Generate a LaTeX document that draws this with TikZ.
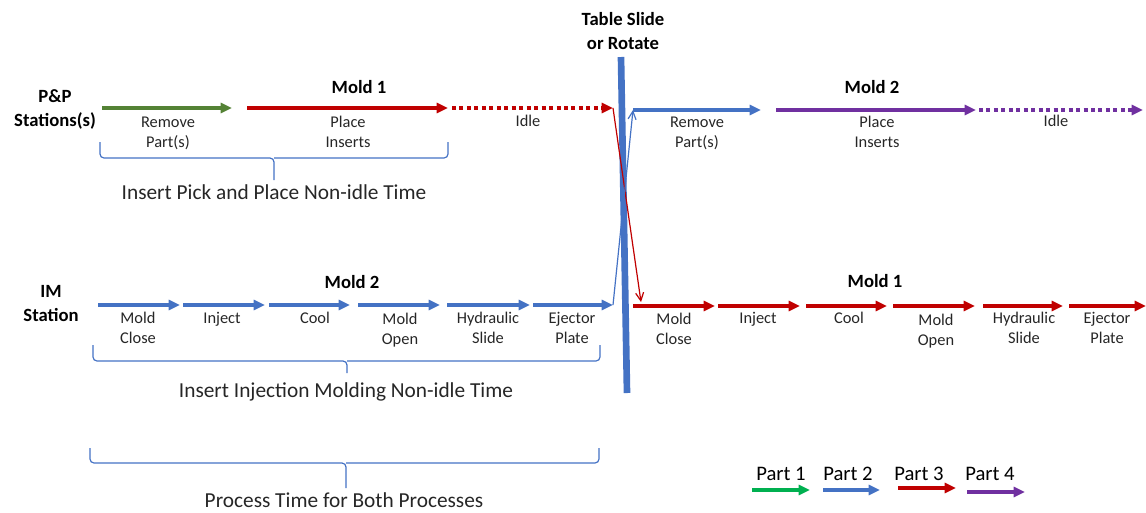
\documentclass[tikz,border=0pt]{standalone}
\usepackage{fontspec}
\setmainfont{Carlito}
\usetikzlibrary{arrows.meta}
\definecolor{ppgreen}{HTML}{548235}
\definecolor{lggreen}{HTML}{00B050}
\definecolor{pblue}{HTML}{4472C4}
\definecolor{pred}{HTML}{C00000}
\definecolor{ppurple}{HTML}{7030A0}
\definecolor{txt}{HTML}{262626}
\begin{document}
\begin{tikzpicture}[x=0.75pt,y=-0.75pt,
  seg/.style={line width=2.6pt,-{Triangle[length=8.5pt,width=7.5pt]}},
  idle/.style={seg, dash pattern=on 3pt off 2.6pt},
  hop/.style={line width=0.9pt,-{Straight Barb[length=6pt,width=6pt]}},
  lbl/.style={font=\fontsize{12.3}{15}\selectfont, text=txt, align=center, anchor=base, inner sep=0pt},
  head/.style={font=\bfseries\fontsize{14}{17.3}\selectfont, align=center, anchor=base, inner sep=0pt},
  captext/.style={font=\fontsize{16}{19}\selectfont, text=txt, anchor=base, inner sep=0pt},
  legtext/.style={font=\fontsize{15.5}{18}\selectfont, text=black, anchor=base, inner sep=0pt},
  brace/.style={pblue, line width=0.9pt, rounded corners=3pt},
]
\useasboundingbox (0,0) rectangle (1146,512);

% ---------- station titles (base = last line) ----------
\node[head] (pp) at (55,126) {P\&P\\Stations(s)};
\node[head] (im) at (51,321) {IM\\Station};
\node[head] (table) at (623,49) {Table Slide\\or Rotate};

% ---------- table slide / rotate bar ----------
\coordinate (bart) at (621,57);
\coordinate (barb) at (627,393);
\draw[pblue, line width=5pt] (bart) -- (barb);

% ---------- P&P station, first cycle ----------
\coordinate (a1s) at (102,108); \coordinate (a1e) at (232,108);
\coordinate (a2s) at (247,108); \coordinate (a2e) at (448,108);
\coordinate (a3s) at (452,108); \coordinate (a3e) at (613,108);
\draw[seg, ppgreen] (a1s) -- (a1e);
\draw[seg, pred] (a2s) -- (a2e);
\draw[idle, pred] (a3s) -- (a3e);
\node[head] (m1a) at (359,93) {Mold 1};
\node[lbl] (rp1) at (168,147) {Remove\\Part(s)};
\node[lbl] (pi1) at (348,147) {Place\\Inserts};
\node[lbl] (id1) at (528,126) {Idle};

% ---------- P&P station, second cycle ----------
\coordinate (b1s) at (633,110); \coordinate (b1e) at (761,110);
\coordinate (b2s) at (776,110); \coordinate (b2e) at (976,110);
\coordinate (b3s) at (979,110); \coordinate (b3e) at (1143,110);
\draw[seg, pblue] (b1s) -- (b1e);
\draw[seg, ppurple] (b2s) -- (b2e);
\draw[idle, ppurple] (b3s) -- (b3e);
\node[head] (m2a) at (872,93) {Mold 2};
\node[lbl] (rp2) at (697,147) {Remove\\Part(s)};
\node[lbl] (pi2) at (877,147) {Place\\Inserts};
\node[lbl] (id2) at (1056,126) {Idle};

% ---------- IM station, first cycle ----------
\coordinate (c1s) at (98,305);  \coordinate (c1e) at (180,305);
\coordinate (c2s) at (183,305); \coordinate (c2e) at (265,305);
\coordinate (c3s) at (269,305); \coordinate (c3e) at (350,305);
\coordinate (c4s) at (358,305); \coordinate (c4e) at (440,305);
\coordinate (c5s) at (447,305); \coordinate (c5e) at (530,305);
\coordinate (c6s) at (533,305); \coordinate (c6e) at (613,305);
\foreach \i in {1,...,6} \draw[seg, pblue] (c\i s) -- (c\i e);
\node[head] (m2b) at (352,288) {Mold 2};
\node[lbl] (l1) at (138,343) {Mold\\Close};
\node[lbl] (l2) at (222,323) {Inject};
\node[lbl] (l3) at (315,323) {Cool};
\node[lbl] (l4) at (400,344) {Mold\\Open};
\node[lbl] (l5) at (488,343) {Hydraulic\\Slide};
\node[lbl] (l6) at (572,343) {Ejector\\Plate};

% ---------- IM station, second cycle ----------
\coordinate (d1s) at (633,306);  \coordinate (d1e) at (715,306);
\coordinate (d2s) at (718,306);  \coordinate (d2e) at (800,306);
\coordinate (d3s) at (806,306);  \coordinate (d3e) at (887,306);
\coordinate (d4s) at (893,306);  \coordinate (d4e) at (975,306);
\coordinate (d5s) at (983,306);  \coordinate (d5e) at (1063,306);
\coordinate (d6s) at (1069,306); \coordinate (d6e) at (1146,306);
\foreach \i in {1,...,6} \draw[seg, pred] (d\i s) -- (d\i e);
\node[head] (m1b) at (875,287) {Mold 1};
\node[lbl] (r1) at (674,344) {Mold\\Close};
\node[lbl] (r2) at (758,323) {Inject};
\node[lbl] (r3) at (849,323) {Cool};
\node[lbl] (r4) at (936,345) {Mold\\Open};
\node[lbl] (r5) at (1024,343) {Hydraulic\\Slide};
\node[lbl] (r6) at (1107,343) {Ejector\\Plate};

% ---------- moves across the table ----------
\draw[hop, pred] (a3e) -- (641,302);
\draw[hop, pblue] (c6e) -- (b1s);

% ---------- braces and captions ----------
\draw[brace] (100,142) -- (100,158) -- (274,158) -- (274,180);
\draw[brace] (448,142) -- (448,158) -- (274,158);
\node[captext] (capa) at (274,199) {Insert Pick and Place Non-idle Time};

\draw[brace] (93,345) -- (93,361) -- (347,361) -- (347,373);
\draw[brace] (600,345) -- (600,361) -- (347,361);
\node[captext] (capb) at (346,397) {Insert Injection Molding Non-idle Time};

\draw[brace] (90,448) -- (90,463) -- (346,463) -- (346,488);
\draw[brace] (599,448) -- (599,463) -- (346,463);
\node[captext] (capc) at (344,507) {Process Time for Both Processes};

% ---------- legend ----------
\node[legtext] (p1) at (781,480) {Part 1};
\node[legtext] (p2) at (848,480) {Part 2};
\node[legtext] (p3) at (919,480) {Part 3};
\node[legtext] (p4) at (990,480) {Part 4};
\coordinate (k1s) at (752,490);  \coordinate (k1e) at (810,490);
\coordinate (k2s) at (823,490);  \coordinate (k2e) at (880,490);
\coordinate (k3s) at (898,488);  \coordinate (k3e) at (956,488);
\coordinate (k4s) at (967,492);  \coordinate (k4e) at (1025,492);
\draw[seg, lggreen] (k1s) -- (k1e);
\draw[seg, pblue] (k2s) -- (k2e);
\draw[seg, pred] (k3s) -- (k3e);
\draw[seg, ppurple] (k4s) -- (k4e);
\end{tikzpicture}
\end{document}
